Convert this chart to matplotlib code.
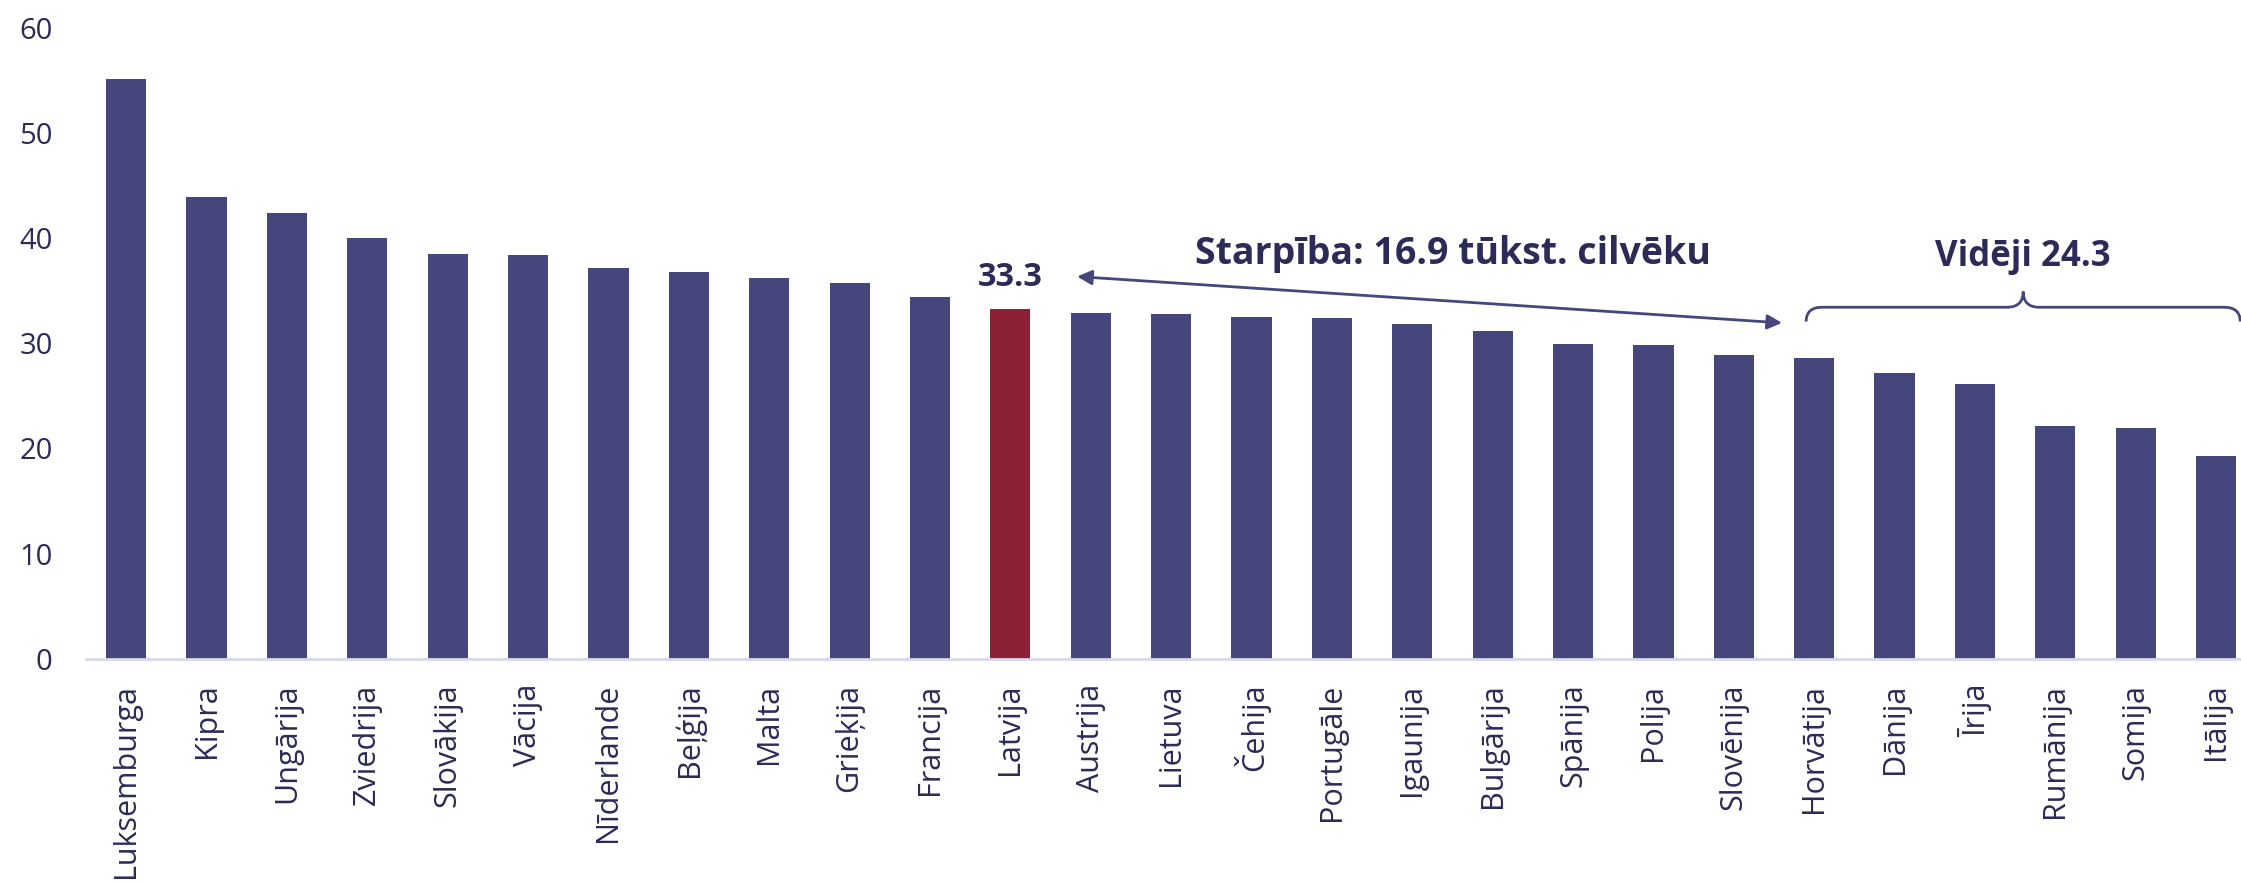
import numpy as np
import matplotlib
matplotlib.use('Agg')
import matplotlib.pyplot as plt
from matplotlib.path import Path
from matplotlib.patches import PathPatch

## -- Data
countries = ["Luksemburga", "Kipra", "Ungārija", "Zviedrija", "Slovākija", "Vācija",
             "Nīderlande", "Beļģija", "Malta", "Grieķija", "Francija", "Latvija",
             "Austrija", "Lietuva", "Čehija", "Portugāle", "Igaunija", "Bulgārija",
             "Spānija", "Polija", "Slovēnija", "Horvātija", "Dānija", "Īrija",
             "Rumānija", "Somija", "Itālija"]
values = [55.1, 43.9, 42.4, 40.0, 38.5, 38.4, 37.2, 36.8, 36.2, 35.7, 34.4, 33.3,
          32.9, 32.8, 32.5, 32.4, 31.8, 31.2, 29.9, 29.8, 28.9, 28.6, 27.2, 26.1,
          22.1, 21.9, 19.3]
highlight = "Latvija"
yticks = [0, 10, 20, 30, 40, 50, 60]
diff_label = "Starpība: 16.9 tūkst. cilvēku"
avg_label = "Vidēji 24.3"

bar_color = "#45477c"
red_color = "#8b2133"
text_color = "#2c2b57"
axis_color = "#d8d8ec"

plt.rcParams['font.family'] = ['Open Sans', 'DejaVu Sans']

W, H = 2241, 883
fig = plt.figure(figsize=(W / 100, H / 100), dpi=100)
ax = fig.add_axes([86 / W, 1 - 658.7 / H, (W - 86) / W, (658.7 - 27.9) / H])

x = np.arange(len(countries))
colors = [red_color if c == highlight else bar_color for c in countries]
ax.bar(x, values, width=0.5, color=colors, zorder=2)

ax.set_xlim(-0.5, 26.31)
ax.set_ylim(0, 60)
ax.set_yticks(yticks)
ax.set_xticks(x)
ax.set_xticklabels(countries, rotation=90, fontsize=22, color=text_color)
ax.tick_params(axis='x', length=0, pad=18)
ax.tick_params(axis='y', length=0, pad=24, labelsize=21, labelcolor=text_color)
for s in ['left', 'right', 'top']:
	ax.spines[s].set_visible(False)
ax.spines['bottom'].set_color(axis_color)
ax.spines['bottom'].set_linewidth(2)

# value label over Latvija
li = countries.index(highlight)
ax.text(li, 36.3, "%.1f" % values[li], ha='center', va='center', fontsize=23.5,
	fontweight='bold', color=text_color)

# double arrow
ax.annotate("", xy=(11.83, 36.35), xytext=(20.6, 31.94),
	arrowprops=dict(arrowstyle='<|-|>', color=bar_color, lw=2,
	mutation_scale=22, shrinkA=0, shrinkB=0), annotation_clip=False)
ax.text(16.5, 38.5, diff_label, ha='center', va='center', fontsize=27,
	fontweight='bold', color=text_color)

# curly brace over the lowest countries
x0, x1, xm = 20.9, 26.3, 23.6
yl, ye, yt = 33.43, 32.07, 34.92
rx = 0.2
verts = [(x0, ye), (x0, yl), (x0 + rx, yl),
	(xm - rx, yl), (xm, yl), (xm, yt),
	(xm, yl), (xm + rx, yl),
	(x1 - rx, yl), (x1, yl), (x1, ye)]
codes = [Path.MOVETO, Path.CURVE3, Path.CURVE3,
	Path.LINETO, Path.CURVE3, Path.CURVE3,
	Path.CURVE3, Path.CURVE3,
	Path.LINETO, Path.CURVE3, Path.CURVE3]
ax.add_patch(PathPatch(Path(verts, codes), fill=False, edgecolor=bar_color,
	lw=2, clip_on=False))
ax.text(xm, 38.2, avg_label, ha='center', va='center', fontsize=25,
	fontweight='bold', color=text_color)

plt.savefig("out.png", dpi=100)
